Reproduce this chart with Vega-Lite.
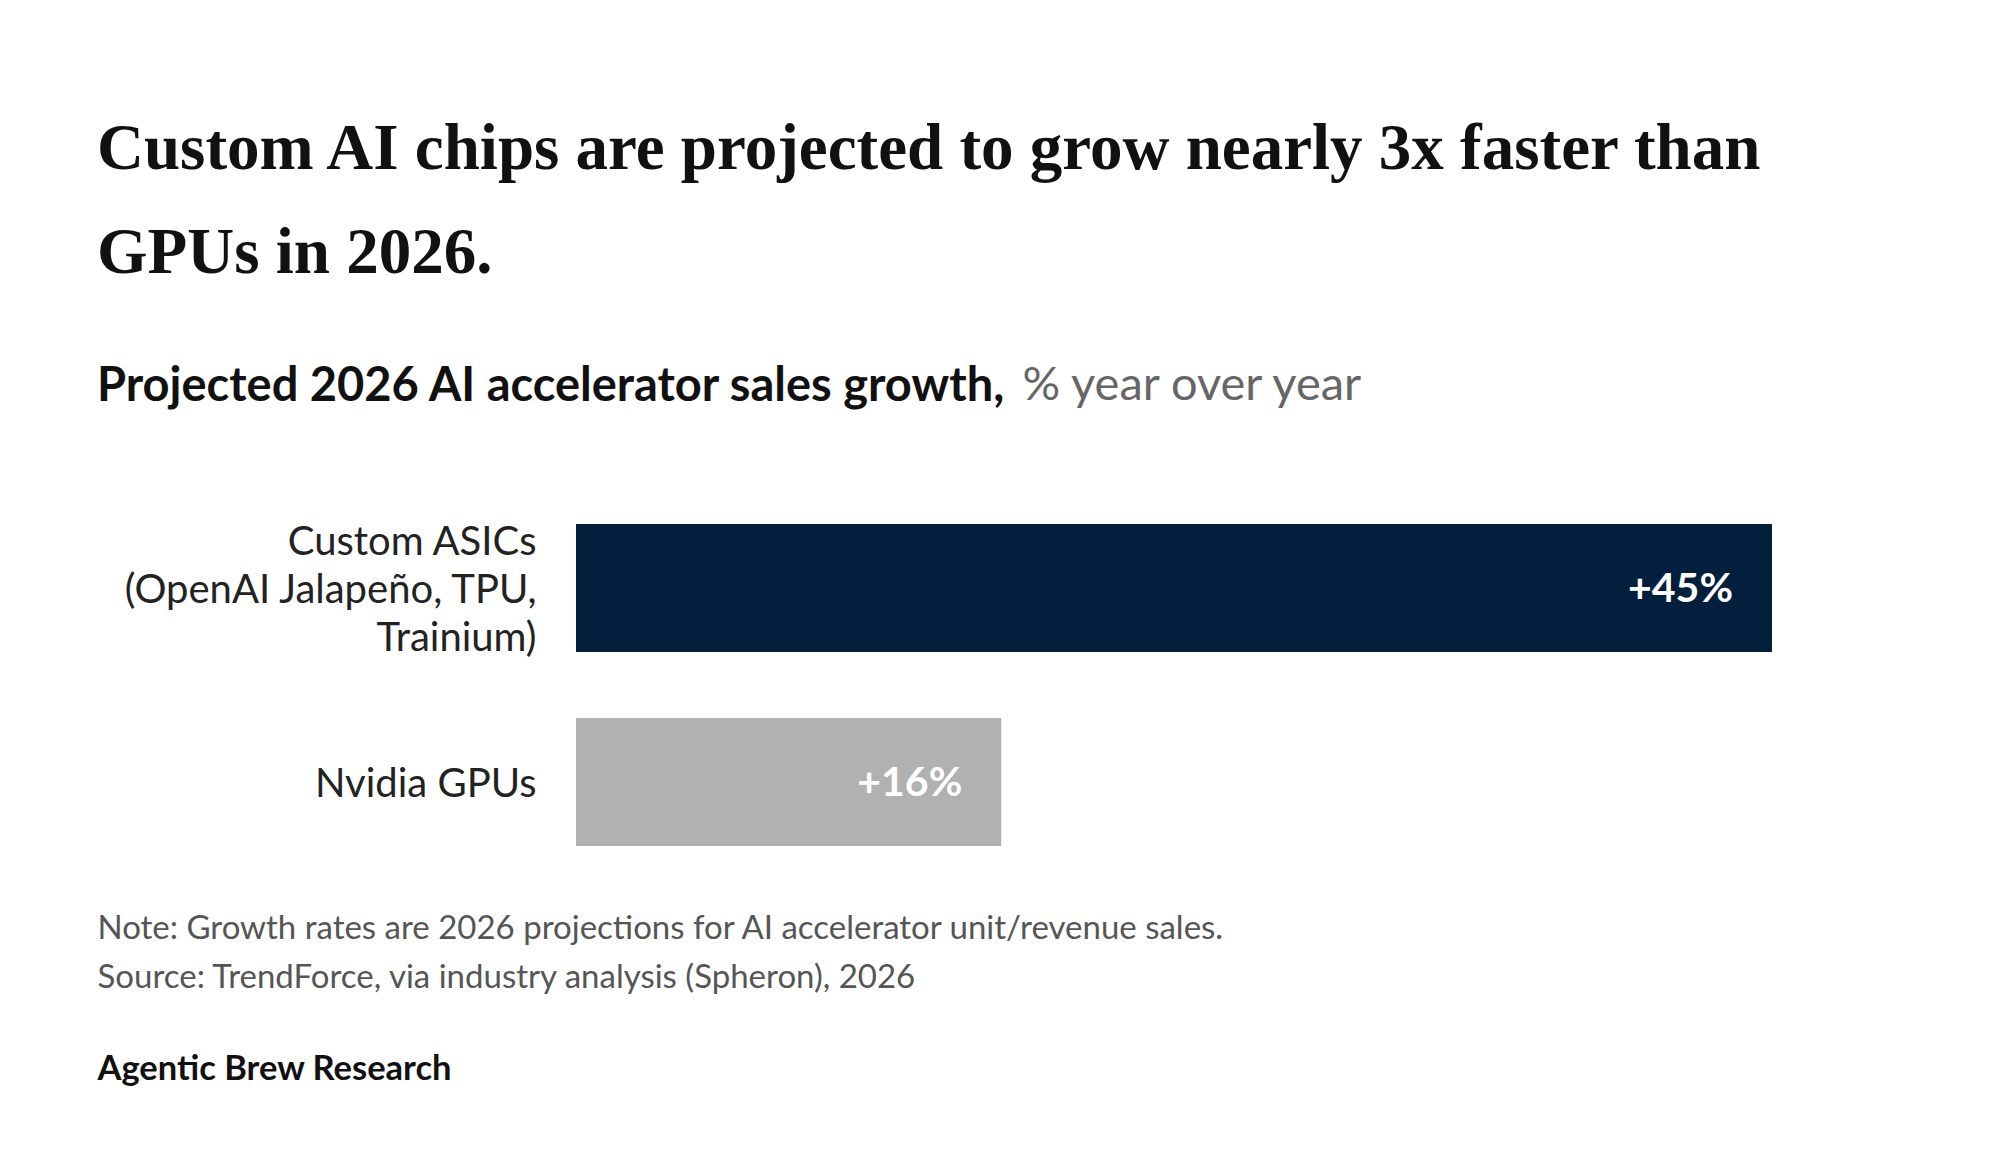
{
  "$schema": "https://vega.github.io/schema/vega-lite/v6.json",
  "width": 1196,
  "height": 388,
  "autosize": "none",
  "padding": {"left": 576, "top": 491, "right": 228, "bottom": 279},
  "background": "white",
  "title": {
    "text": ["Custom AI chips are projected to grow nearly 3x faster than", "GPUs in 2026."],
    "subtitle": "Projected 2026 AI accelerator sales growth,",
    "anchor": "start",
    "frame": "group",
    "dx": -479,
    "offset": -50,
    "font": "Liberation Serif",
    "fontSize": 65,
    "fontWeight": "bold",
    "lineHeight": 104,
    "color": "#111111",
    "subtitleFont": "Lato",
    "subtitleFontSize": 47,
    "subtitleFontWeight": "bold",
    "subtitleColor": "#111111",
    "subtitlePadding": 77
  },
  "data": {
    "values": [
      {"chip": "Custom ASICs|(OpenAI Jalapeño, TPU,|Trainium)", "growth": 45, "label": "+45%", "group": "asic"},
      {"chip": "Nvidia GPUs", "growth": 16, "label": "+16%", "group": "gpu"}
    ]
  },
  "resolve": {"axis": {"x": "independent"}},
  "layer": [
    {
      "mark": {"type": "bar"},
      "encoding": {
        "y": {
          "field": "chip", "type": "nominal", "sort": null,
          "scale": {"paddingInner": 0.34, "paddingOuter": 0.17},
          "axis": {
            "labelExpr": "split(datum.value, '|')",
            "labelOffset": {"condition": {"test": "indexof(datum.value, '|') >= 0", "value": -45}, "value": 3},
            "labelFont": "Lato", "labelFontSize": 40, "labelColor": "#222222",
            "labelLineHeight": 48, "labelPadding": 40, "labelLimit": 0,
            "ticks": false, "domain": false,
            "title": "Agentic Brew Research",
            "titleAngle": 0, "titleAlign": "left", "titleBaseline": "alphabetic",
            "titleX": -479, "titleY": 588,
            "titleFont": "Lato", "titleFontSize": 34.5, "titleFontWeight": "bold", "titleColor": "#111111"
          }
        },
        "x": {
          "field": "growth", "type": "quantitative",
          "scale": {"domain": [0, 45], "nice": false, "zero": true},
          "axis": {
            "orient": "bottom", "labels": false, "ticks": false, "domain": false, "grid": false,
            "title": ["Note: Growth rates are 2026 projections for AI accelerator unit/revenue sales.", "Source: TrendForce, via industry analysis (Spheron), 2026"],
            "titleX": -479, "titleY": 59, "titleAlign": "left", "titleBaseline": "alphabetic",
            "titleLineHeight": 49,
            "titleFont": "Lato", "titleFontSize": 33, "titleFontWeight": "normal", "titleColor": "#555555"
          }
        },
        "color": {
          "field": "group", "type": "nominal",
          "scale": {"domain": ["asic", "gpu"], "range": ["#02203e", "#b1b1b1"]},
          "legend": null
        }
      }
    },
    {
      "mark": {"type": "text", "align": "right", "baseline": "middle", "dx": -39, "dy": 2, "font": "Lato", "fontSize": 41, "fontWeight": "bold", "color": "white"},
      "encoding": {
        "y": {"field": "chip", "type": "nominal", "sort": null},
        "x": {
          "field": "growth", "type": "quantitative",
          "axis": {
            "orient": "top", "labels": false, "ticks": false, "domain": false, "grid": false,
            "title": "% year over year",
            "titleX": 446, "titleY": -92, "titleAlign": "left", "titleBaseline": "alphabetic",
            "titleFont": "Lato", "titleFontSize": 47, "titleFontWeight": "normal", "titleColor": "#666666"
          }
        },
        "text": {"field": "label"}
      }
    }
  ],
  "config": {"view": {"stroke": null}}
}
